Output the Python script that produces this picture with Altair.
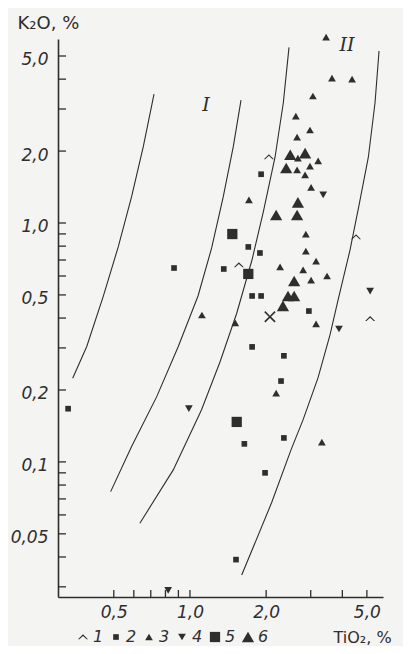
import altair as alt
import pandas as pd

INK = "#2e2e2e"
BG = "#f4f4f2"

# ---------------- axes (log-log) ----------------
X_DOMAIN = [0.301, 5.79]
Y_DOMAIN = [0.0272, 5.89]
x_tick_values = [0.5, 0.6, 0.7, 0.8, 0.9, 1.0, 2.0, 3.0, 4.0, 5.0]
x_label_values = [0.5, 1.0, 2.0, 5.0]
y_tick_values = [5, 4, 3, 2, 1, 0.9, 0.8, 0.7, 0.6, 0.5, 0.4, 0.3, 0.2,
                 0.1, 0.09, 0.08, 0.07, 0.06, 0.05, 0.04, 0.03]
y_label_values = [5, 2, 1, 0.5, 0.2, 0.1, 0.05]

# ---------------- boundary curves ----------------
curve1_x = [0.344, 0.391, 0.454, 0.521, 0.588, 0.654, 0.721]
curve1_y = [0.224, 0.304, 0.492, 0.796, 1.288, 2.086, 3.465]
curve2_x = [0.486, 0.588, 0.739, 0.899, 1.076, 1.218, 1.354, 1.483, 1.591]
curve2_y = [0.0751, 0.1159, 0.1876, 0.304, 0.495, 0.786, 1.288, 2.086, 3.27]
curve3_x = [0.634, 0.859, 1.110, 1.314, 1.530, 1.758, 1.949, 2.168, 2.338, 2.462]
curve3_y = [0.0554, 0.0926, 0.165, 0.262, 0.419, 0.700, 1.114, 1.885, 3.187, 5.435]
curve4_x = [1.601, 2.103, 2.507, 2.797, 3.205, 3.575, 3.846, 4.290, 4.656, 5.067, 5.385, 5.585]
curve4_y = [0.0336, 0.0676, 0.1123, 0.1499, 0.2246, 0.340, 0.476, 0.771, 1.189, 1.885, 3.187, 5.245]

# ---------------- samples (TiO2, K2O) ----------------
g1_x = [2.05, 1.56, 4.53, 5.15]
g1_y = [1.89, 0.667, 0.874, 0.397]
g2_x = [1.91, 1.70, 1.89, 1.36, 0.865, 1.76, 1.91, 2.95, 1.76, 2.35, 2.29, 1.64, 2.35, 1.98, 1.52, 0.33]
g2_y = [1.60, 0.794, 0.749, 0.642, 0.648, 0.495, 0.495, 0.428, 0.303, 0.278, 0.218, 0.119, 0.126, 0.090, 0.039, 0.167]
g3_x = [3.45, 3.64, 4.37, 3.06, 2.62, 2.98, 2.65, 2.67, 2.98, 3.21, 2.85, 2.65, 3.01, 1.71,
        2.87, 2.87, 3.15, 2.27, 2.80, 3.01, 3.48, 3.15, 1.115, 1.51, 2.19, 3.32]
g3_y = [6.00, 4.04, 4.00, 3.40, 2.80, 2.45, 2.29, 1.87, 1.73, 1.82, 1.59, 1.67, 1.41, 1.25,
        0.899, 0.763, 0.693, 0.655, 0.636, 0.577, 0.600, 0.378, 0.412, 0.382, 0.194, 0.121]
g4_x = [3.36, 5.15, 3.88, 0.99, 0.82]
g4_y = [1.31, 0.519, 0.360, 0.167, 0.029]
g5_x = [1.47, 1.70, 1.53]
g5_y = [0.899, 0.612, 0.147]
g6_x = [2.49, 2.85, 2.40, 2.67, 2.19, 2.65, 2.58, 2.44, 2.58, 2.33]
g6_y = [1.93, 1.96, 1.70, 1.22, 1.08, 1.08, 0.572, 0.495, 0.495, 0.45]
cross_x = [2.07]
cross_y = [0.405]

group_names = ["1", "2", "3", "4", "5", "6"]
roman_labels = ["I", "II"]
roman_x = [1.157, 4.175]
roman_y = [3.117, 5.557]

CARET = "M-1,0.45L0,-0.55L1,0.45L0.72,0.45L0,-0.22L-0.72,0.45Z"
XMARK = ("M-1,-0.8L-0.8,-1L0,-0.2L0.8,-1L1,-0.8L0.2,0L1,0.8L0.8,1L0,0.2"
         "L-0.8,1L-1,0.8L-0.2,0Z")
group_shapes = [CARET, "square", "triangle-up", "triangle-down", "square", "triangle-up"]
group_sizes = [100, 32, 60, 60, 105, 150]

# ---------------- tables ----------------
curve_rows = []
for cid, (xs, ys) in enumerate([(curve1_x, curve1_y), (curve2_x, curve2_y),
                                (curve3_x, curve3_y), (curve4_x, curve4_y)]):
    for i, (a, b) in enumerate(zip(xs, ys)):
        curve_rows.append({"curve": cid, "i": i, "tio2": a, "k2o": b})
curves_df = pd.DataFrame(curve_rows)

pt_rows = []
for name, xs, ys in zip(group_names, [g1_x, g2_x, g3_x, g4_x, g5_x, g6_x],
                        [g1_y, g2_y, g3_y, g4_y, g5_y, g6_y]):
    for a, b in zip(xs, ys):
        pt_rows.append({"group": name, "tio2": a, "k2o": b})
pts_df = pd.DataFrame(pt_rows)
cross_df = pd.DataFrame({"tio2": cross_x, "k2o": cross_y})
roman_df = pd.DataFrame({"lab": roman_labels, "tio2": roman_x, "k2o": roman_y})
xt_df = pd.DataFrame({"v": x_tick_values})
yt_df = pd.DataFrame({"v": y_tick_values})

W, H = 325, 558

xscale = alt.Scale(type="log", domain=X_DOMAIN, nice=False, zero=False)
yscale = alt.Scale(type="log", domain=Y_DOMAIN, nice=False, zero=False)

xaxis = alt.Axis(values=x_label_values, grid=False, ticks=False,
                 labelExpr="replace(format(datum.value, '.1f'), '.', ',')",
                 labelFont="DejaVu Sans", labelFontStyle="italic", labelFontSize=17,
                 labelColor=INK, labelPadding=7, labelFlush=False, labelOverlap=False,
                 domainColor=INK, domainWidth=1.6,
                 title="TiO₂, %", titleFont="DejaVu Sans", titleFontSize=16,
                 titleFontWeight="normal", titleColor=INK, titleAlign="left",
                 titleBaseline="middle", titleX=275, titleY=40, titleAngle=0)
yaxis = alt.Axis(values=y_label_values, grid=False, ticks=False,
                 labelExpr="replace(format(datum.value, datum.value < 0.1 ? '.2f' : '.1f'), '.', ',')",
                 labelFont="DejaVu Sans", labelFontStyle="italic", labelFontSize=17,
                 labelColor=INK, labelPadding=10, labelOffset=4, labelFlush=False,
                 labelOverlap=False, domainColor=INK, domainWidth=1.6,
                 title="K₂O, %", titleFont="DejaVu Sans", titleFontSize=18,
                 titleFontWeight="normal", titleColor=INK, titleAlign="left",
                 titleBaseline="middle", titleX=-41, titleY=-16, titleAngle=0)

X = alt.X("tio2:Q", scale=xscale, axis=xaxis)
Y = alt.Y("k2o:Q", scale=yscale, axis=yaxis)

curves = alt.Chart(curves_df).mark_line(color=INK, strokeWidth=1.1).encode(
    x=X, y=Y, detail="curve:N", order="i:Q")

yticks = alt.Chart(yt_df).mark_rule(color=INK, strokeWidth=1.3).encode(
    y=alt.Y("v:Q", scale=yscale, axis=yaxis), x=alt.value(0), x2=alt.value(8))
xticks = alt.Chart(xt_df).mark_rule(color=INK, strokeWidth=1.3).encode(
    x=alt.X("v:Q", scale=xscale, axis=xaxis), y=alt.value(H), y2=alt.value(H - 7))

legend = alt.Legend(orient="none", direction="horizontal", columns=6,
                    legendX=17, legendY=590, title=None,
                    labelFont="DejaVu Sans", labelFontStyle="italic", labelFontSize=16,
                    labelColor=INK, labelOffset=2, columnPadding=4,
                    symbolFillColor=INK, symbolStrokeColor=INK, symbolStrokeWidth=0,
                    symbolOpacity=1)

points = alt.Chart(pts_df).mark_point(filled=True, opacity=1, color=INK, strokeWidth=0).encode(
    x=X, y=Y,
    shape=alt.Shape("group:N", scale=alt.Scale(domain=group_names, range=group_shapes), legend=legend),
    size=alt.Size("group:N", scale=alt.Scale(type="ordinal", domain=group_names, range=group_sizes),
                  legend=legend),
)

cross = alt.Chart(cross_df).mark_point(filled=True, opacity=1, color=INK, strokeWidth=0,
                                       shape=XMARK, size=130).encode(x=X, y=Y)

roman = alt.Chart(roman_df).mark_text(font="DejaVu Serif", fontStyle="italic", fontSize=19,
                                      color=INK).encode(x=X, y=Y, text="lab:N")

chart = alt.layer(curves, yticks, xticks, points, cross, roman).properties(
    width=W, height=H,
    autosize=alt.AutoSizeParams(type="none"),
    padding={"left": 50, "top": 31, "right": 20, "bottom": 49},
    background=BG,
).configure_view(stroke=None)

chart.save("out.html", embed_options={"renderer": "svg", "actions": False})
